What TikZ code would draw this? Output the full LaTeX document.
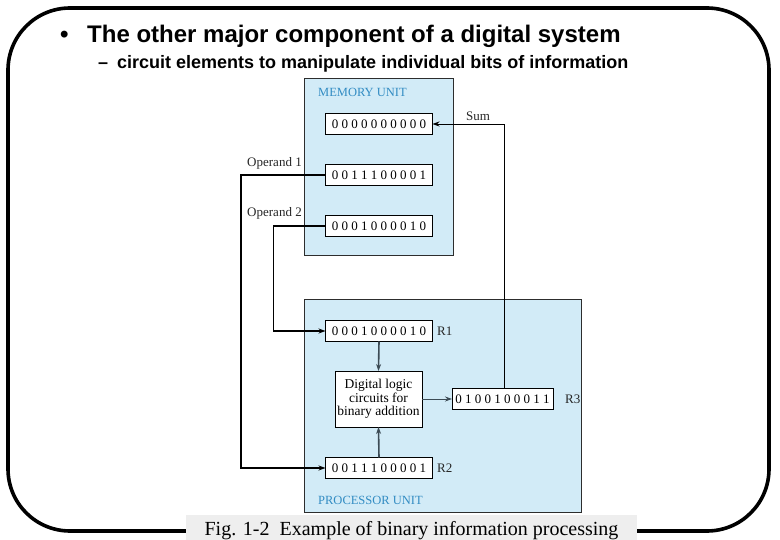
\documentclass[tikz,border=0pt]{standalone}
\usepackage{fontspec}
\setmainfont{Liberation Serif}
\newfontfamily\arialfont{Liberation Sans}
\usetikzlibrary{arrows.meta}
\definecolor{unitfill}{RGB}{210,235,247}
\definecolor{unittext}{RGB}{50,140,195}
\definecolor{unitedge}{RGB}{45,45,45}
\definecolor{capbg}{RGB}{238,238,238}
\definecolor{innerline}{RGB}{60,75,85}
\tikzset{
  unitbox/.style={draw=unitedge, line width=0.9pt, fill=unitfill, inner sep=0pt, outer sep=0pt},
  regbox/.style={draw=black, line width=0.9pt, fill=white, minimum width=107pt, minimum height=21pt, inner sep=0pt, outer sep=0pt, font=\fontsize{13}{13}\selectfont},
  lbl/.style={font=\fontsize{13}{13}\selectfont, inner sep=0pt, text=black!85},
  unitlbl/.style={font=\fontsize{12.5}{12.5}\selectfont, inner sep=0pt, text=unittext, anchor=west},
  tip/.style={-{Stealth[length=7pt,width=5pt]}},
  thickconn/.style={tip, line width=1.6pt, black},
  thinconn/.style={tip, line width=0.9pt, black},
  innerconn/.style={tip, line width=1.6pt, innerline},
  titletext/.style={font=\arialfont\bfseries\fontsize{24}{24}\selectfont, anchor=base west, inner sep=0pt},
  subtext/.style={font=\arialfont\bfseries\fontsize{18}{18}\selectfont, anchor=base west, inner sep=0pt},
}
\begin{document}
\begin{tikzpicture}[x=1pt,y=-1pt]
\useasboundingbox (0,0) rectangle (780,540);
% slide frame
\draw[line width=3.6pt, rounded corners=62pt] (8,8) rectangle (769,531);
% title
\node[titletext] (bullet) at (60,43) {•};
\node[titletext] (title) at (87,43) {The other major component of a digital system};
\node[subtext] (dash) at (98,69) {–};
\node[subtext] (sub) at (117,69) {circuit elements to manipulate individual bits of information};
% units
\node[unitbox, minimum width=149pt, minimum height=177pt] (mem) at (378.5,166.5) {};
\node[unitbox, minimum width=277pt, minimum height=213pt] (proc) at (442.5,405.5) {};
\node[unitlbl] (memlbl) at (318,92) {MEMORY UNIT};
\node[unitlbl] (proclbl) at (318,500) {PROCESSOR UNIT};
% registers
\node[regbox] (m1) at (379,124) {0 0 0 0 0 0 0 0 0 0};
\node[regbox] (m2) at (379,175) {0 0 1 1 1 0 0 0 0 1};
\node[regbox] (m3) at (379,226) {0 0 0 1 0 0 0 0 1 0};
\node[regbox] (r1) at (379,331) {0 0 0 1 0 0 0 0 1 0};
\node[regbox] (r2) at (379,468) {0 0 1 1 1 0 0 0 0 1};
\node[regbox, minimum width=101pt] (r3) at (502.5,399) {0 1 0 0 1 0 0 0 1 1};
\node[regbox, minimum width=87pt, minimum height=56pt, align=center, font=\fontsize{13.5}{13.5}\selectfont] (logic) at (378.5,399) {Digital logic\\circuits for\\binary addition};
% labels
\node[lbl] (sum) at (478,116) {Sum};
\node[lbl] (op1) at (274.5,163) {Operand 1};
\node[lbl] (op2) at (274.5,213) {Operand 2};
\node[lbl, anchor=west] (r1l) at (437,331) {R1};
\node[lbl, anchor=west] (r2l) at (437,468) {R2};
\node[lbl, anchor=west] (r3l) at (565,399) {R3};
% connectors
\coordinate (c1) at (504,124);
\coordinate (o1) at (241,175);
\coordinate (o2) at (273.5,226);
\draw[thinconn] (r3.north -| c1) -- (c1) -- (m1.east);
\draw[thickconn] (m2.west) -- (o1) |- (r2.west);
\draw[thickconn] (m3.west) -- (o2) |- (r1.west);
\draw[innerconn] (r1.south) -- (logic.north);
\draw[innerconn] (r2.north) -- (logic.south);
\draw[thinconn, innerline] (logic.east) -- (r3.west);
% caption
\fill[capbg] (186,515) rectangle (637,540);
\node[font=\fontsize{20}{20}\selectfont, anchor=base, inner sep=0pt] (cap) at (411.5,535) {Fig. 1-2\ \ Example of binary information processing};
\end{tikzpicture}
\end{document}
